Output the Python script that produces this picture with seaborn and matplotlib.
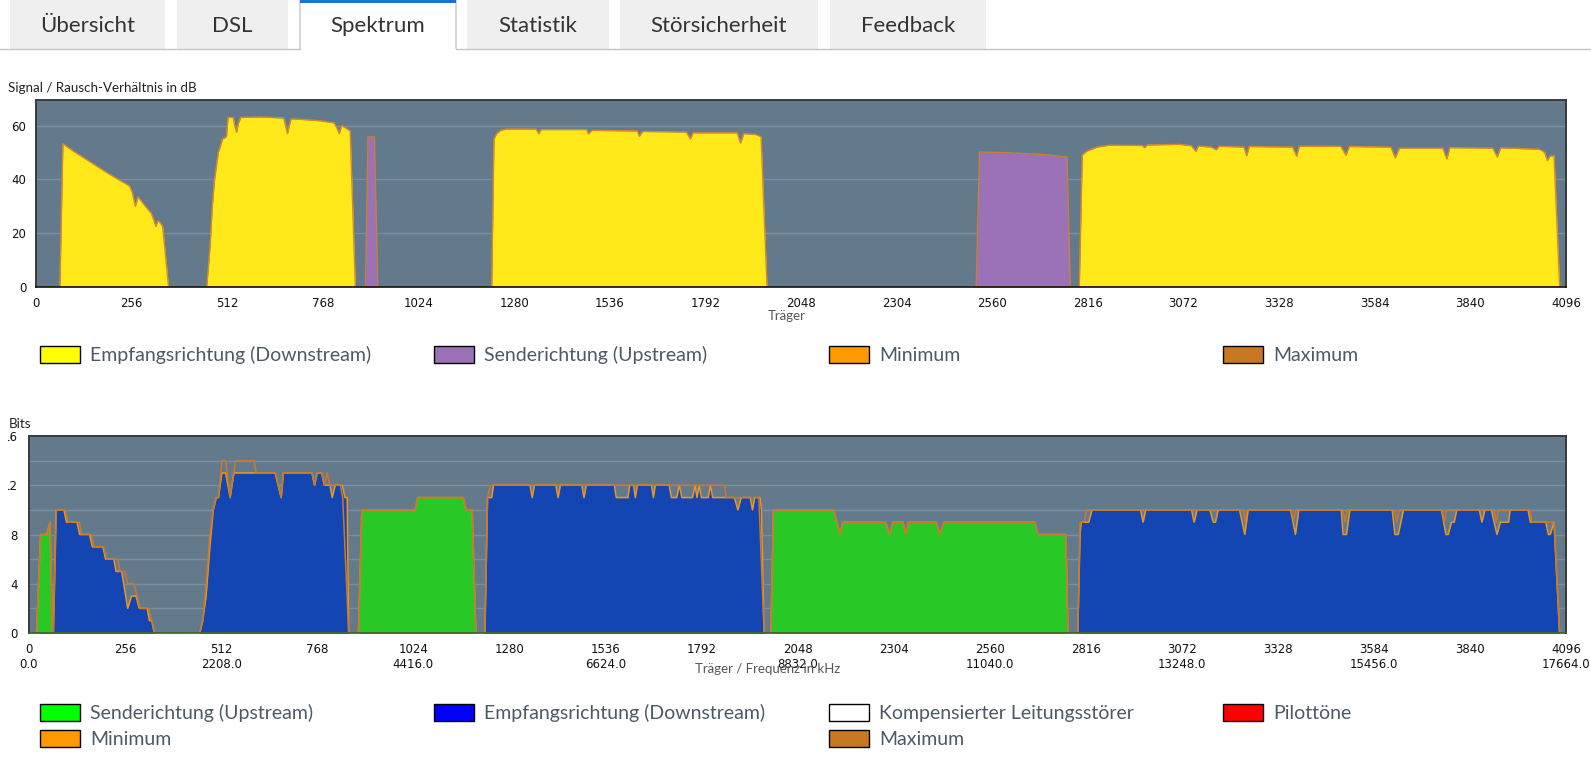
import matplotlib
matplotlib.use("Agg")
import matplotlib.pyplot as plt
from matplotlib.patches import FancyBboxPatch, Patch, Rectangle
from matplotlib.transforms import Bbox
import seaborn as sns

W, H = 1591, 762

# ---- tabs
tab_labels = ["Übersicht", "DSL", "Spektrum", "Statistik", "Störsicherheit", "Feedback"]
active_tab = "Spektrum"

# ---- signal / noise ratio per carrier (dB)
snr_ds_carrier = [0, 64, 72, 100, 136, 184, 220, 245, 251, 258, 266, 273, 290, 309, 315, 321, 326, 331, 339, 355,
                  457, 466, 472, 478, 483, 488, 493, 499, 506, 510, 514, 528, 532, 537, 542, 548, 600, 663, 668,
                  673, 678, 683, 720, 759, 798, 806, 812, 818, 830, 841, 855,
                  1220, 1226, 1233, 1245, 1260, 1339, 1346, 1352, 1474, 1479, 1488, 1610, 1615, 1624, 1741, 1752,
                  1759, 1877, 1886, 1895, 1927, 1941, 1957,
                  2793, 2801, 2813, 2841, 2873, 2961, 2968, 2975, 3063, 3093, 3105, 3112, 3146, 3160, 3167, 3234,
                  3241, 3248, 3364, 3375, 3382, 3493, 3507, 3516, 3627, 3639, 3650, 3766, 3777, 3785, 3900, 3912,
                  3921, 4025, 4039, 4046, 4053, 4064, 4079, 4096]
snr_ds_db = [0, 0, 53.2, 50.5, 47.3, 43.0, 40.0, 38.0, 37.4, 35.0, 30.0, 33.5, 30.5, 27.3, 25.0, 22.5, 24.6, 24.2, 22.5, 0,
             0, 15, 30, 40, 45, 50, 52, 55, 55.5, 56, 63, 63, 60, 57.5, 61, 63, 63.2, 62.8, 60,
             57, 60, 62.5, 62.2, 61.8, 61, 59, 57, 60, 59, 58, 0,
             0, 55, 57, 58.3, 58.7, 58.7, 57, 58.5, 58.5, 56.9, 58.2, 58, 56, 57.8, 57.6, 55,
             57.3, 57.3, 53.5, 57, 56.7, 55.8, 0,
             0, 49, 50.5, 52, 52.7, 52.6, 51.8, 52.8, 53, 52.5, 50.4, 52.4, 52, 51, 52.3, 52,
             48.8, 52.2, 52, 48.6, 52.3, 52.3, 49, 52.2, 52, 48, 51.6, 51.6, 47.6, 51.8, 51.6, 48.3,
             51.7, 51.2, 50, 47, 48.6, 48.8, 0, 0]
snr_us_carrier = [0, 882, 889, 906, 915, 2517, 2526, 2600, 2700, 2760, 2769, 4096]
snr_us_db = [0, 0, 55.8, 55.8, 0, 0, 50.2, 49.9, 49.2, 48.3, 0, 0]

# ---- bits per carrier
bits_ds_carrier = [0, 65, 72, 93, 100, 128, 135, 161, 169, 197, 204, 226, 232, 247, 263, 273, 285, 294, 315, 321, 327, 334,
                   455, 463, 472, 482, 491, 499, 505, 514, 524, 536, 546, 656, 672, 678, 754, 761, 768, 780, 787,
                   802, 808, 816, 835, 842, 848, 852,
                   1215, 1222, 1233, 1238, 1335, 1341, 1347, 1404, 1410, 1416, 1473, 1479, 1485, 1560, 1565, 1596,
                   1601, 1611, 1616, 1621, 1659, 1664, 1669, 1706, 1712, 1726, 1733, 1740, 1768, 1775, 1780, 1786,
                   1792, 1810, 1816, 1822, 1880, 1889, 1898, 1922, 1928, 1934, 1948, 1952, 1959,
                   2795, 2801, 2804, 2824, 2833, 2962, 2969, 2976, 3098, 3105, 3113, 3147, 3156, 3162, 3169, 3226,
                   3240, 3249, 3362, 3375, 3384, 3497, 3502, 3511, 3520, 3633, 3640, 3649, 3663, 3764, 3776, 3782,
                   3791, 3798, 3805, 3865, 3872, 3880, 3897, 3912, 3921, 3943, 3947, 3995, 4001, 4042, 4049, 4054,
                   4064, 4079, 4096]
bits_ds = [0, 0, 10, 10, 9, 9, 8, 8, 7, 7, 6, 6, 5, 5, 2, 3, 3, 2, 2, 1, 1, 0,
           0, 1, 3, 7, 10, 11, 11, 13, 13, 11, 13, 13, 11, 13, 13, 12, 13, 13, 12,
           12, 11, 12, 12, 11, 11, 0,
           0, 11, 11, 12, 12, 11, 12, 12, 11, 12, 12, 11, 12, 12, 11, 11,
           12, 12, 11, 12, 12, 11, 12, 12, 11, 11, 12, 11, 11, 12, 11, 12,
           11, 11, 12, 11, 11, 10, 11, 11, 10, 11, 11, 10, 0,
           0, 8, 9, 9, 10, 10, 9, 10, 10, 9, 10, 10, 9, 9, 10, 10,
           8, 10, 10, 8, 10, 10, 8, 8, 10, 10, 8, 8, 10, 10, 8, 8,
           9, 9, 10, 10, 9, 10, 10, 8, 9, 9, 10, 10, 9, 9, 8, 8,
           9, 0, 0]
bits_us_carrier = [0, 20, 31, 47, 56, 63, 878, 887, 1029, 1036, 1157, 1165, 1181, 1191,
                   1977, 1984, 2144, 2162, 2168, 2283, 2293, 2302, 2329, 2337, 2344, 2418, 2427, 2439,
                   2680, 2689, 2763, 2769, 4096]
bits_us = [0, 0, 8, 8, 9, 0, 0, 10, 10, 11, 11, 10, 10, 0,
           0, 10, 10, 8, 9, 9, 8, 9, 9, 8, 9, 9, 8, 9,
           9, 8, 8, 0, 0]
bits_max_carrier = [0, 20, 31, 47, 56, 63, 65, 73, 97, 104, 135, 140, 166, 173, 199, 207, 237, 242, 256, 263, 280,
                    296, 318, 327, 334,
                    455, 463, 472, 482, 491, 499, 505, 514, 524, 536, 546, 550, 600, 605, 656, 672, 678, 754,
                    761, 768, 780, 787, 795, 802, 830, 836, 852,
                    878, 887, 1029, 1036, 1157, 1165, 1181, 1191,
                    1215, 1222, 1230, 1853, 1858, 1945, 1959,
                    1977, 1984, 2144, 2162, 2168, 2283, 2293, 2302, 2329, 2337, 2344, 2418, 2427, 2439,
                    2680, 2689, 2763, 2769,
                    2795, 2801, 2812, 2818, 3236, 3241, 3246, 3364, 3370, 3376, 3502, 3507, 3513, 3639, 3645,
                    3652, 3766, 3772, 3778, 3905, 3910, 3916, 4000, 4005, 4064, 4079, 4096]
bits_max = [0, 0, 8, 8, 9, 0, 0, 10, 10, 9, 9, 8, 8, 7, 7, 6, 6, 5, 5, 4, 4,
            2, 2, 1, 0,
            0, 1, 4, 8, 10, 11, 11, 14, 14, 11, 13, 14, 14, 13, 13, 11, 13, 13,
            12, 13, 13, 12, 13, 12, 12, 11, 0,
            0, 10, 10, 11, 11, 10, 10, 0,
            0, 11, 12, 12, 11, 11, 0,
            0, 10, 10, 8, 9, 9, 8, 9, 9, 8, 9, 9, 8, 9,
            9, 8, 8, 0,
            0, 9, 9, 10, 10, 9, 10, 10, 9, 10, 10, 9, 10, 10, 9,
            10, 10, 9, 10, 10, 9, 10, 10, 9, 9, 0, 0]

carrier_ticks = list(range(0, 4097, 256))
freq_khz = ["0.0", "", "2208.0", "", "4416.0", "", "6624.0", "", "8832.0", "", "11040.0", "",
            "13248.0", "", "15456.0", "", "17664.0"]
snr_yticks = [0, 20, 40, 60]
bits_yticks = [0, 4, 8, 12, 16]

snr_keys = [("Empfangsrichtung (Downstream)", "#ffff00"), ("Senderichtung (Upstream)", "#9b72b6"),
            ("Minimum", "#ff9900"), ("Maximum", "#c87820")]
bits_keys = [("Senderichtung (Upstream)", "#00ff00"), ("Empfangsrichtung (Downstream)", "#0000ff"),
             ("Kompensierter Leitungsstörer", "#ffffff"), ("Pilottöne", "#ff0000"),
             ("Minimum", "#ff9900"), None, ("Maximum", "#c87820"), None]

sns.set_style("white")
plt.rcParams["font.family"] = ["DejaVu Sans"]

PLOT_BG = "#637a8d"
GRID = "#7a8ea0"
UI_FONT = "Lato"
TICK_SIZE = 8.5


def px_axes(fig, left, top, right, bottom):
    return fig.add_axes([left / W, 1 - bottom / H, (right - left) / W, (bottom - top) / H])


def style_chart(ax):
    ax.set_facecolor(PLOT_BG)
    ax.set_axisbelow(True)
    ax.yaxis.grid(True, which="both", color=GRID, lw=1)
    ax.xaxis.grid(False)
    for side in ["top", "right", "left"]:
        ax.spines[side].set_color("#3a3a3a")
        ax.spines[side].set_linewidth(1.4)
    ax.spines["bottom"].set_color("#111111")
    ax.spines["bottom"].set_linewidth(1.2)
    ax.set_xlim(0, 4096)
    ax.set_xticks(carrier_ticks)
    ax.tick_params(axis="x", length=4, width=1, color="#333333", pad=3,
                   labelsize=TICK_SIZE, labelcolor="#111111")


def add_key(fig, x, y, label, color):
    fs = 14 * 100 / 72
    fig.legend(handles=[Patch(facecolor=color, edgecolor="black", lw=1)], labels=[label],
               loc="center left", bbox_to_anchor=(x / W, 1 - y / H), frameon=False,
               borderpad=0, borderaxespad=0, handlelength=40 / fs, handleheight=18 / fs,
               handletextpad=10 / fs, prop={"family": UI_FONT, "size": 14}, labelcolor="#4d5966")


fig = plt.figure(figsize=(W / 100, H / 100), dpi=100)

# ---- page chrome: tabs
ui = fig.add_axes([0, 0, 1, 1])
ui.set_xlim(0, W)
ui.set_ylim(H, 0)
ui.axis("off")
tab_spans = [(10, 165), (177, 288), (300, 456), (467, 609), (620, 818), (830, 986)]
for label, (x0, x1) in zip(tab_labels, tab_spans):
    active = label == active_tab
    ui.add_patch(FancyBboxPatch((x0, -10), x1 - x0, 66, boxstyle="round,pad=0,rounding_size=4",
                                fc="white" if active else "#efefef",
                                ec="#c8c8c8" if active else "none", lw=1))
    if active:
        ui.add_patch(Rectangle((x0, -2), x1 - x0, 5, fc="#1b73d3", ec="none"))
    ui.text((x0 + x1) / 2, 26, label, ha="center", va="center", fontsize=16,
            family=UI_FONT, color="#333333")
ui.add_patch(Rectangle((0, 49), W, 12, fc="white", ec="none"))
ui.plot([0, 300], [48.5, 48.5], color="#c4c4c4", lw=1)
ui.plot([456, W], [48.5, 48.5], color="#c4c4c4", lw=1)

# ---- signal / noise chart
ax1 = px_axes(fig, 36, 100, 1566, 287)
style_chart(ax1)
ax1.fill_between(snr_ds_carrier, snr_ds_db, 0, color="#ffe91a", lw=0)
ax1.fill_between(snr_us_carrier, snr_us_db, 0, color="#9b72b6", lw=0)
sns.lineplot(x=snr_ds_carrier, y=snr_ds_db, ax=ax1, color="#d8892c", lw=1,
             estimator=None, sort=False, legend=False)
sns.lineplot(x=snr_us_carrier, y=snr_us_db, ax=ax1, color="#c87f3a", lw=1,
             estimator=None, sort=False, legend=False)
ax1.set_ylim(0, 69.5)
ax1.set_yticks(snr_yticks)
ax1.tick_params(axis="y", length=0, pad=7, labelsize=TICK_SIZE, labelcolor="#111111")
ax1.set_xlabel("Träger", family=UI_FONT, fontsize=9.5, color="#555555")
ax1.xaxis.set_label_coords((787 - 36) / 1530, (287 - 316) / 187)
ax1.xaxis.label.set_va("center")
ax1.set_ylabel("Signal / Rausch-Verhältnis in dB", rotation=0, ha="left", va="center",
               family=UI_FONT, fontsize=9.6, color="#222222")
ax1.yaxis.set_label_coords((8 - 36) / 1530, (287 - 88) / 187)

# ---- bits chart
ax2 = px_axes(fig, 29, 436, 1566, 633)
style_chart(ax2)
ax2.spines["bottom"].set_color("#2f5f2f")
ax2.fill_between(bits_ds_carrier, bits_ds, 0, color="#1446b3", lw=0)
ax2.fill_between(bits_us_carrier, bits_us, 0, color="#28c826", lw=0)
sns.lineplot(x=bits_ds_carrier, y=bits_ds, ax=ax2, color="#ee9422", lw=1.1,
             estimator=None, sort=False, legend=False)
sns.lineplot(x=bits_us_carrier, y=bits_us, ax=ax2, color="#ee9422", lw=1.1,
             estimator=None, sort=False, legend=False)
sns.lineplot(x=bits_max_carrier, y=bits_max, ax=ax2, color="#c8792a", lw=1.1,
             estimator=None, sort=False, legend=False)
ax2.set_ylim(0, 16)
ax2.set_yticks(bits_yticks)
ax2.set_yticks([2, 6, 10, 14], minor=True)
ax2.tick_params(axis="y", which="both", length=4, width=1, color="#333333", pad=4,
                labelsize=TICK_SIZE, labelcolor="#111111")
ax2.set_xticklabels([f"{c}\n{f}" for c, f in zip(carrier_ticks, freq_khz)], linespacing=1.2)
ax2.set_xlabel("Träger / Frequenz in kHz", family=UI_FONT, fontsize=9.5, color="#555555")
ax2.xaxis.set_label_coords((768 - 29) / 1537, (633 - 669) / 197)
ax2.xaxis.label.set_va("center")
ax2.set_ylabel("Bits", rotation=0, ha="left", va="center", family=UI_FONT, fontsize=9.6, color="#222222")
ax2.yaxis.set_label_coords((9 - 29) / 1537, (633 - 424) / 197)
# the page cuts off the stem of the leading "1" of the upper bit labels
clip = Bbox.from_extents(8.4, 0, W, H)
for tick in ax2.yaxis.get_major_ticks():
    tick.label1.set_clip_box(clip)
    tick.label1.set_clip_on(True)

# ---- legends
key_cols = [40, 434, 829, 1223]
for (label, color), x in zip(snr_keys, key_cols):
    add_key(fig, x, 355, label, color)
for i, key in enumerate(bits_keys):
    if key is None:
        continue
    add_key(fig, key_cols[i % 4], 713 if i < 4 else 739, key[0], key[1])

fig.savefig("out.png", dpi=100)
